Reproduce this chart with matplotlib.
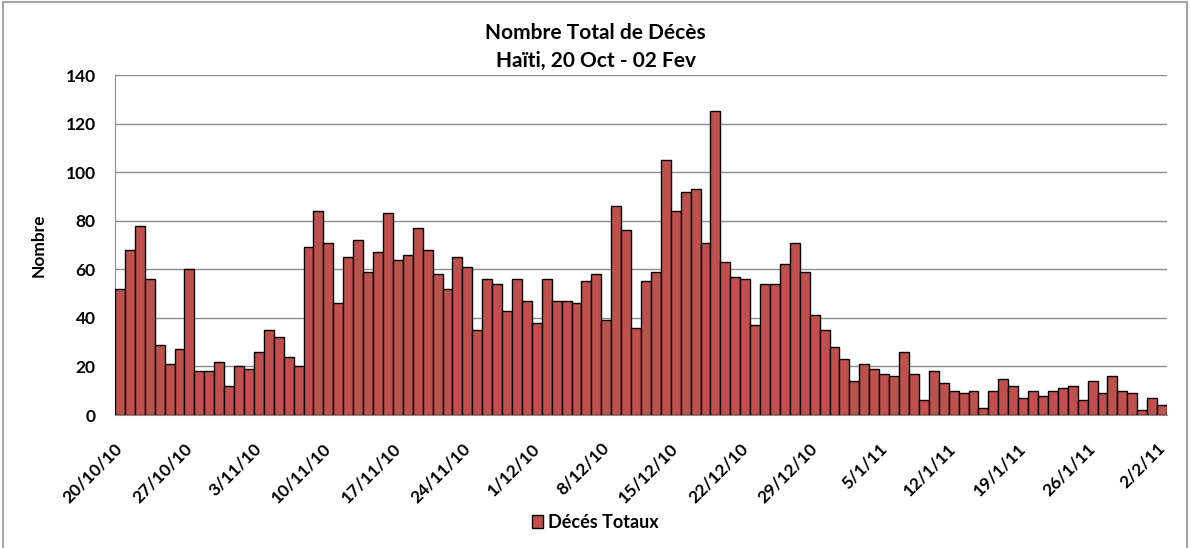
import numpy as np, matplotlib
matplotlib.use('Agg'); import matplotlib.pyplot as plt
from matplotlib.patches import Rectangle
import datetime as dt

plt.rcParams.update({'font.family':['Lato','DejaVu Sans'],'font.weight':'bold'})

RED="#C0504D"; GRID="#8C8C8C"

start = dt.date(2010,10,20)
deces = [52,68,78,56,29,21,27,60,18,18,22,12,20,19,26,35,32,24,20,69,
         84,71,46,65,72,59,67,83,64,66,77,68,58,52,65,61,35,56,54,43,
         56,47,38,56,47,47,46,55,58,39,86,76,36,55,59,105,84,92,93,71,
         125,63,57,56,37,54,54,62,71,59,41,35,28,23,14,21,19,17,16,26,
         17,6,18,13,10,9,10,3,10,15,12,7,10,8,10,11,12,6,14,9,
         16,10,9,2,7,4]
dates = [start+dt.timedelta(days=i) for i in range(len(deces))]
tick_idx = list(range(0,len(deces),7))
tick_lbl = [f"{dates[i].day}/{dates[i].month}/{dates[i].year%100}" for i in tick_idx]

fig = plt.figure(figsize=(11.91,5.48), dpi=100)
ax = fig.add_axes([115/1191, 1-415/548, (1167-115)/1191, (415-75)/548])
x = np.arange(len(deces))
ax.bar(x, deces, width=1.0, color=RED, edgecolor='black', linewidth=1.0, label='Décés Totaux', zorder=3)
ax.set_xlim(-0.5, len(deces)-0.5)
ax.set_ylim(0, 140)
ax.set_yticks(range(0,141,20))
ax.yaxis.grid(True, color=GRID, lw=1.0, zorder=0)
for s in ['top','right']: ax.spines[s].set_visible(False)
for s in ['left','bottom']: ax.spines[s].set_color(GRID)
ax.tick_params(axis='y', length=0, labelsize=12.5, pad=14)
ax.tick_params(axis='x', length=0, labelsize=12.5, pad=22)
ax.set_xticks(tick_idx)
ax.set_xticklabels(tick_lbl, rotation=45, ha='right', va='center', rotation_mode='anchor')
ax.set_ylabel('Nombre', fontsize=12.5, fontweight='bold')
ax.yaxis.set_label_coords((47-115)/1052, 0.5)
fig.text(0.5, 1-33/548, 'Nombre Total de Décès', ha='center', va='center', fontsize=15, fontweight='bold')
fig.text(0.5, 1-61/548, 'Haïti, 20 Oct - 02 Fev', ha='center', va='center', fontsize=15, fontweight='bold')
fig.legend(loc='center', bbox_to_anchor=(0.5, 1-522/548), frameon=False, fontsize=13,
           handlelength=0.6, handleheight=0.7, handletextpad=0.3)
fig.patches.append(Rectangle((3/1191, -0.01), 1184/1191, 1-2/548+0.01, transform=fig.transFigure,
                             fill=False, edgecolor='#A6A6A6', lw=1.5))
fig.savefig('out.png', dpi=100)
